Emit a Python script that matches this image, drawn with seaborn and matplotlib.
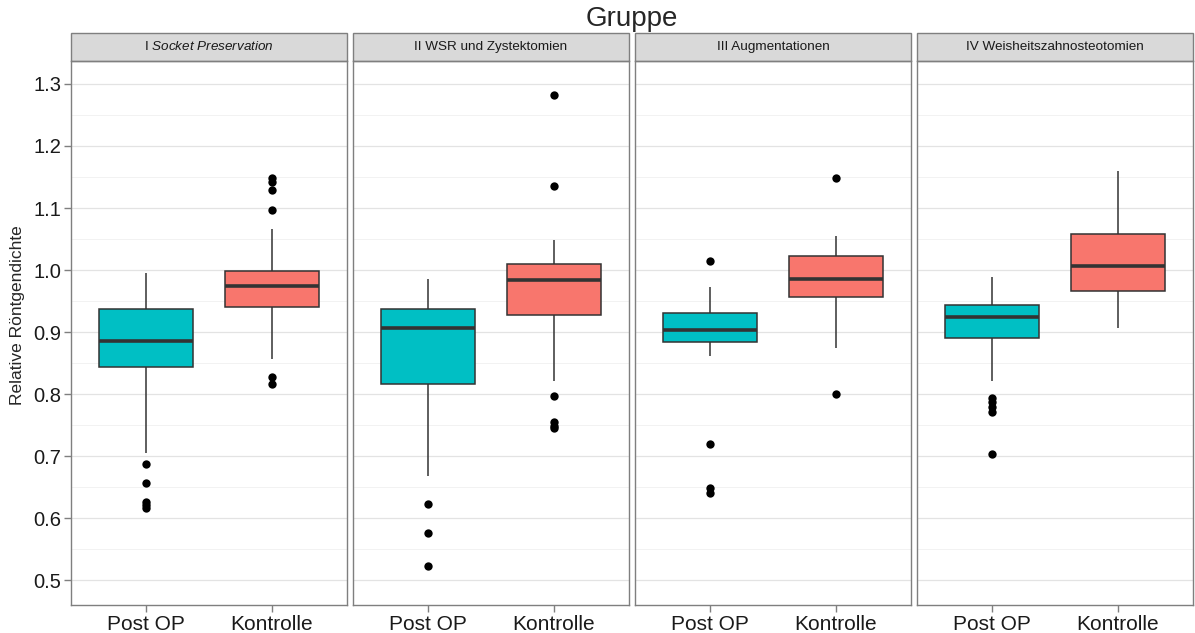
import matplotlib
matplotlib.use("Agg")
import matplotlib.pyplot as plt
import seaborn as sns
import pandas as pd
from matplotlib.patches import Rectangle

# Gruppen und Bedingungen
groups = ["I $\\it{Socket\\ Preservation}$", "II WSR und Zystektomien",
          "III Augmentationen", "IV Weisheitszahnosteotomien"]
conditions = ["Post OP", "Kontrolle"]
colors = ["#00BFC4", "#F8766D"]

# Boxplot-Kennwerte je Gruppe: [Post OP, Kontrolle]
whisker_low = [[0.705, 0.856], [0.668, 0.821], [0.861, 0.874], [0.821, 0.907]]
q1 = [[0.844, 0.940], [0.816, 0.927], [0.884, 0.956], [0.890, 0.967]]
median = [[0.886, 0.975], [0.907, 0.984], [0.903, 0.986], [0.925, 1.006]]
q3 = [[0.937, 0.999], [0.937, 1.010], [0.930, 1.023], [0.944, 1.058]]
whisker_high = [[0.996, 1.066], [0.985, 1.048], [0.973, 1.055], [0.989, 1.159]]

# Ausreißer
outliers_post = [[0.688, 0.656, 0.626, 0.621, 0.616],
                 [0.623, 0.576, 0.523],
                 [1.015, 0.720, 0.648, 0.641],
                 [0.794, 0.788, 0.780, 0.771, 0.703]]
outliers_ctrl = [[1.148, 1.142, 1.129, 1.096, 0.828, 0.817],
                 [1.282, 1.135, 0.797, 0.755, 0.749, 0.745],
                 [1.149, 0.800],
                 []]

y_ticks = [0.5, 0.6, 0.7, 0.8, 0.9, 1.0, 1.1, 1.2, 1.3]

sns.set_theme(style="white")
plt.rcParams["font.family"] = ["Liberation Sans", "DejaVu Sans"]
plt.rcParams["mathtext.fontset"] = "custom"
plt.rcParams["mathtext.rm"] = "Liberation Sans"
plt.rcParams["mathtext.it"] = "Liberation Sans:italic"

fig, axes = plt.subplots(1, 4, figsize=(11.95, 6.33), dpi=100, sharey=True)
fig.subplots_adjust(left=71 / 1195, right=1193 / 1195, bottom=1 - 605 / 633,
                    top=1 - 61 / 633, wspace=0.022)

for i, ax in enumerate(axes):
    rows = []
    for j, cond in enumerate(conditions):
        for v in (whisker_low[i][j], q1[i][j], median[i][j], q3[i][j], whisker_high[i][j]):
            rows.append({"Bedingung": cond, "Wert": v})
    df = pd.DataFrame(rows)
    out = pd.DataFrame({"Bedingung": ["Post OP"] * len(outliers_post[i]) + ["Kontrolle"] * len(outliers_ctrl[i]),
                        "Wert": outliers_post[i] + outliers_ctrl[i]})

    # Gitter
    ax.set_axisbelow(True)
    ax.set_yticks([0.55, 0.65, 0.75, 0.85, 0.95, 1.05, 1.15, 1.25], minor=True)
    ax.grid(True, which="major", color="#E3E3E3", linewidth=0.9)
    ax.grid(True, which="minor", axis="y", color="#F2F2F2", linewidth=0.7)

    sns.boxplot(data=df, x="Bedingung", y="Wert", hue="Bedingung", order=conditions,
                hue_order=conditions, palette=colors, saturation=1, whis=(0, 100),
                showfliers=False, showcaps=False, width=0.75, linecolor="#333333",
                linewidth=1.1, legend=False, ax=ax,
                medianprops=dict(linewidth=2.6, color="#333333"))
    if len(out):
        sns.stripplot(data=out, x="Bedingung", y="Wert", order=conditions, jitter=False,
                      color="black", size=6, ax=ax)

    ax.set_xlim(-0.6, 1.6)
    ax.set_ylim(0.46, 1.337)
    ax.set_yticks(y_ticks)
    ax.set_yticklabels([f"{t:.1f}" for t in y_ticks])
    ax.set_xlabel("")
    ax.set_ylabel("")
    for s in ax.spines.values():
        s.set_color("#7F7F7F")
        s.set_linewidth(1.0)
    ax.tick_params(axis="both", which="major", length=5, width=1.0, color="#7F7F7F",
                   labelcolor="#1A1A1A", pad=2, bottom=True, left=(i == 0))
    ax.tick_params(axis="x", labelsize=15)
    ax.tick_params(axis="y", labelsize=14.5)
    ax.tick_params(axis="y", which="minor", length=0)
    if i > 0:
        ax.tick_params(axis="y", labelleft=False)

    # Facetten-Streifen
    ax.add_patch(Rectangle((0, 1.0), 1, 28 / 544, transform=ax.transAxes, clip_on=False,
                           facecolor="#D9D9D9", edgecolor="#7F7F7F", linewidth=1.0))
    ax.text(0.5, 1.0 + 14 / 544, groups[i], transform=ax.transAxes, ha="center",
            va="center", fontsize=9.7, color="#1A1A1A")

fig.text(632 / 1195, 1 - 19 / 633, "Gruppe", ha="center", va="center", fontsize=20)
fig.text(18 / 1195, 1 - 315 / 633, "Relative Röntgendichte", ha="center", va="center",
         rotation=90, fontsize=12.5)

fig.savefig("out.png", dpi=100)
